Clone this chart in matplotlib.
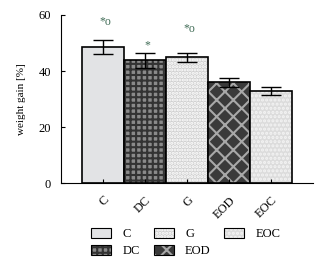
import numpy as np
import matplotlib.pyplot as plt
from matplotlib.patches import Patch

plt.rcParams['font.family'] = ['Liberation Serif', 'DejaVu Serif']
plt.rcParams['hatch.linewidth'] = 1.5

# Data
groups = ['C', 'DC', 'G', 'EOD', 'EOC']
weight_gain = [48.5, 43.8, 44.9, 36.0, 32.9]
errors = [2.4, 2.7, 1.6, 1.6, 1.3]
marks = ['*o', '*', '*o', '', '']
mark_y = [57.5, 49.0, 55.0, 0, 0]

# Fill styles for each group
faces = ['#e2e3e5', '#8a8a8a', '#d0d0d0', '#3a3a3a', '#dcdcdc']
hatch_cols = ['#e2e3e5', '#333333', '#ffffff', '#a8a8a8', '#f4f4f4']
hatches = [None, '+++', '.....', 'xx', '....']

fig = plt.figure(figsize=(3.22, 2.63), dpi=100)
ax = fig.add_axes([0.189, 0.304, 0.783, 0.639])

x = np.arange(len(groups))
for i in range(len(groups)):
    ax.bar(x[i], weight_gain[i], width=1.0, color=faces[i], hatch=hatches[i],
           edgecolor=hatch_cols[i], linewidth=0)
    ax.bar(x[i], weight_gain[i], width=1.0, fill=False, edgecolor='black',
           linewidth=1.2)
ax.errorbar(x, weight_gain, yerr=errors, fmt='none', ecolor='black',
            elinewidth=1, capsize=7, capthick=1)

for i in range(len(groups)):
    if marks[i]:
        ax.text(x[i] + 0.05, mark_y[i], marks[i],
                ha='center', va='center', fontsize=8.5, color='#3f6b55')

ax.set_xlim(-1, 5)
ax.set_ylim(0, 60)
ax.set_yticks([0, 20, 40, 60])
ax.set_xticks(x)
ax.set_xticklabels(groups, rotation=45, ha='right', rotation_mode='anchor', fontsize=9)
ax.tick_params(axis='both', direction='in', length=3, labelsize=9)
ax.tick_params(axis='y', pad=7)
ax.tick_params(axis='x', pad=8)
ax.set_ylabel('weight gain [%]', fontsize=8, labelpad=9)
ax.spines['top'].set_visible(False)
ax.spines['right'].set_visible(False)

handles = [(Patch(facecolor=faces[i], hatch=hatches[i], edgecolor=hatch_cols[i], linewidth=0),
            Patch(fill=False, edgecolor='black', linewidth=0.8)) for i in range(len(groups))]
fig.legend(handles=handles, labels=groups, ncol=3, loc='center',
           bbox_to_anchor=(0.578, 0.078), frameon=False, fontsize=9,
           handlelength=1.6, handleheight=0.9, columnspacing=1.1,
           labelspacing=0.35, handletextpad=0.9)

fig.savefig('out.png', dpi=100)
